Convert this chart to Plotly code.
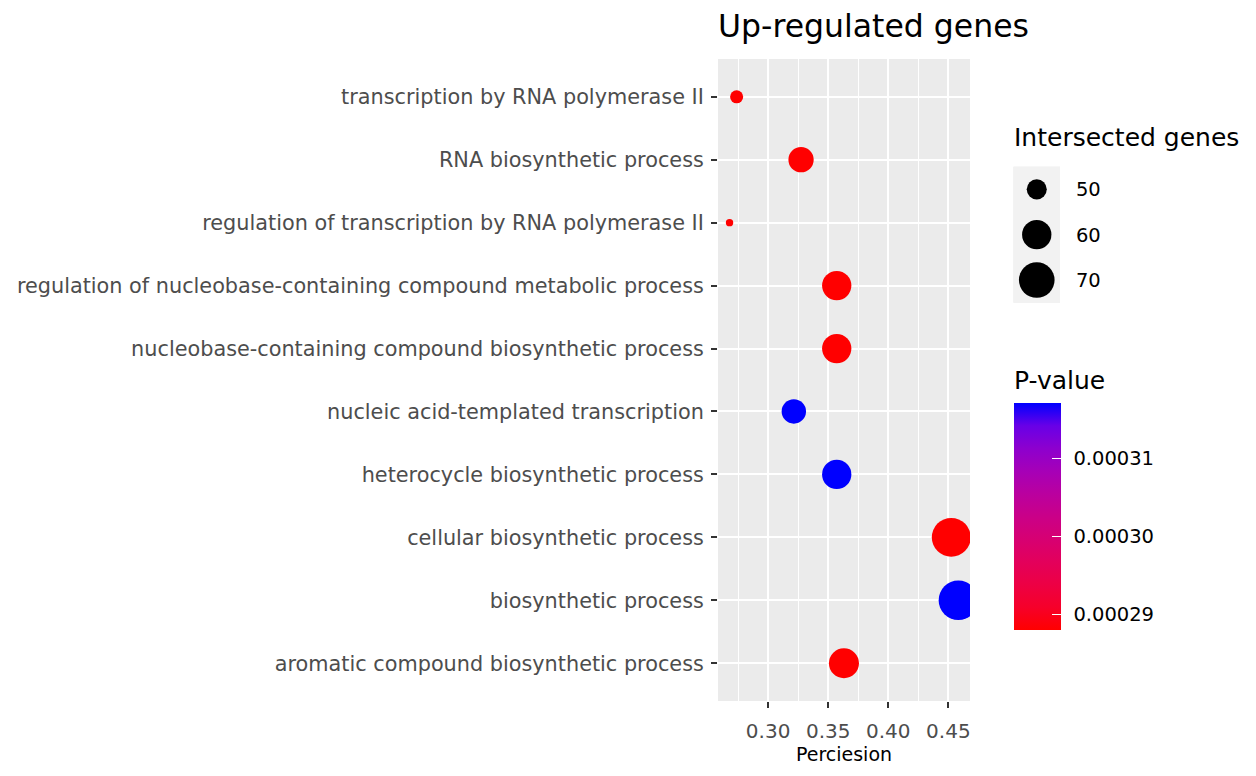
import plotly.graph_objects as go

# GO terms, top to bottom as shown
terms = [
    "transcription by RNA polymerase II",
    "RNA biosynthetic process",
    "regulation of transcription by RNA polymerase II",
    "regulation of nucleobase-containing compound metabolic process",
    "nucleobase-containing compound biosynthetic process",
    "nucleic acid-templated transcription",
    "heterocycle biosynthetic process",
    "cellular biosynthetic process",
    "biosynthetic process",
    "aromatic compound biosynthetic process",
]
precision = [0.2738, 0.3274, 0.2679, 0.3571, 0.3571, 0.3214, 0.3571, 0.4524, 0.4583, 0.3631]
intersected = [46, 55, 45, 60, 60, 54, 60, 76, 77, 61]
pvalue = [0.000288, 0.000288, 0.000288, 0.000288, 0.000288,
          0.0003171, 0.0003171, 0.000288, 0.0003171, 0.000288]

size_breaks = [50, 60, 70]
p_ticks = [0.00029, 0.00030, 0.00031]
x_ticks = [0.30, 0.35, 0.40, 0.45]

FONT = "DejaVu Sans"


def lab_to_hex(L, a, b):
    fy = (L + 16) / 116
    fx = fy + a / 500
    fz = fy - b / 200

    def finv(t):
        return t ** 3 if t ** 3 > 0.008856 else (t - 16 / 116) / 7.787
    X, Y, Z = 0.95047 * finv(fx), finv(fy), 1.08883 * finv(fz)
    rgb = [3.2406 * X - 1.5372 * Y - 0.4986 * Z,
           -0.9689 * X + 1.8758 * Y + 0.0415 * Z,
           0.0557 * X - 0.2040 * Y + 1.0570 * Z]
    out = []
    for v in rgb:
        v = 12.92 * v if v <= 0.0031308 else 1.055 * v ** (1 / 2.4) - 0.055
        out.append(int(round(min(max(v, 0), 1) * 255)))
    return "#%02x%02x%02x" % tuple(out)


# red -> blue in Lab space, like ggplot's gradient
red_lab = (53.24, 80.09, 67.20)
blue_lab = (32.30, 79.19, -107.86)
colorscale = []
for i in range(11):
    t = i / 10
    lab = [r + (bl - r) * t for r, bl in zip(red_lab, blue_lab)]
    colorscale.append([t, lab_to_hex(*lab)])

vmin, vmax = min(intersected), max(intersected)


def diam(v):
    # area-style size scale, radius range 1..6
    t = (v - vmin) / (vmax - vmin)
    return 1 + 6.4 * (1 + 5 * max(t, 0) ** 0.5)


# page body has an 8px margin, so figure coords are screen coords minus 8
W, H = 1240, 760
PL, PT, PB = 710, 51, 693      # main panel edges in figure px
AREA_W = W - 2 - PL
AREA_H = PB - PT


def px(x):
    return (x - 8 - PL) / AREA_W


def py(y):
    return (PB - (y - 8)) / AREA_H


cbar = dict(
    thickness=47, thicknessmode="pixels",
    len=227, lenmode="pixels",
    x=px(1013.5), xanchor="left", xpad=0,
    y=py(516.5), yanchor="middle", ypad=0,
    outlinewidth=0,
    tickvals=p_ticks,
)

fig = go.Figure()
fig.add_trace(go.Scatter(
    x=precision, y=terms, mode="markers",
    marker=dict(
        size=[diam(v) for v in intersected],
        color=pvalue, colorscale=colorscale,
        cmin=min(pvalue), cmax=max(pvalue),
        line=dict(width=0), opacity=1,
        colorbar=dict(cbar, ticktext=["%.5f" % v for v in p_ticks],
                      ticks="outside", ticklen=9, tickcolor="rgba(0,0,0,0)",
                      tickfont=dict(family=FONT, size=19.5, color="black")),
    ),
    showlegend=False, hoverinfo="x+y",
))
# second, label-free colorbar only to carry the white inner ticks
fig.add_trace(go.Scatter(
    x=precision, y=terms, mode="markers",
    marker=dict(
        size=0.1, opacity=0,
        color=pvalue, colorscale=colorscale,
        cmin=min(pvalue), cmax=max(pvalue),
        colorbar=dict(cbar, ticks="inside", ticklen=9, tickcolor="white", tickwidth=1,
                      showticklabels=False),
    ),
    showlegend=False, hoverinfo="skip",
))

# size legend drawn as its own little subplot
fig.add_trace(go.Scatter(
    x=[0.5] * len(size_breaks), y=[str(v) for v in size_breaks],
    mode="markers", xaxis="x2", yaxis="y2",
    marker=dict(size=[diam(v) for v in size_breaks], color="#000000",
                line=dict(width=0), opacity=1),
    showlegend=False, hoverinfo="skip",
))

fig.update_layout(
    width=W, height=H,
    margin=dict(l=PL, r=2, t=PT, b=H - PB),
    paper_bgcolor="white", plot_bgcolor="#EBEBEB",
    font=dict(family=FONT, color="#4D4D4D"),
    title=dict(text="Up-regulated genes", x=PL / W, xanchor="left", xref="container",
               y=1 - 18 / H, yanchor="middle",
               font=dict(family=FONT, size=31.5, color="black")),
    xaxis=dict(
        domain=[0, px(970)], range=[0.2583, 0.4680],
        tickvals=x_ticks, ticktext=["%.2f" % v for v in x_ticks],
        ticks="outside", ticklen=6, tickwidth=2, tickcolor="#333333",
        ticklabelstandoff=6,
        tickfont=dict(size=20, color="#4D4D4D"),
        showgrid=True, gridcolor="white", gridwidth=2,
        minor=dict(tick0=0.275, dtick=0.05, showgrid=True, gridcolor="white", gridwidth=1),
        zeroline=False, showline=False,
        title=dict(text="Perciesion", font=dict(size=19, color="black"), standoff=4),
    ),
    yaxis=dict(
        categoryorder="array", categoryarray=terms[::-1], range=[-0.6, 9.6],
        ticks="outside", ticklen=6, tickwidth=2, tickcolor="#333333",
        ticklabelstandoff=3,
        tickfont=dict(size=20.8, color="#4D4D4D"),
        showgrid=True, gridcolor="white", gridwidth=2,
        zeroline=False, showline=False,
    ),
    xaxis2=dict(domain=[px(1013.5), px(1060)], range=[0, 1], anchor="y2",
                visible=False, fixedrange=True),
    yaxis2=dict(domain=[py(302.7), py(166.7)], anchor="x2", side="right",
                categoryorder="array", categoryarray=[str(v) for v in size_breaks[::-1]],
                range=[-0.5, 2.5], showgrid=False, zeroline=False, showline=False,
                ticks="outside", ticklen=11, tickcolor="rgba(0,0,0,0)",
                tickfont=dict(size=19.5, color="black"), fixedrange=True),
    shapes=[dict(type="rect", xref="x2 domain", yref="y2 domain", x0=0, x1=1, y0=0, y1=1,
                 fillcolor="#F2F2F2", line=dict(width=0), layer="below")],
    annotations=[
        dict(text="Intersected genes", xref="paper", yref="paper", x=px(1012), y=py(138),
             xanchor="left", yanchor="middle", showarrow=False,
             font=dict(size=25, color="black")),
        dict(text="P-value", xref="paper", yref="paper", x=px(1012), y=py(380),
             xanchor="left", yanchor="middle", showarrow=False,
             font=dict(size=25, color="black")),
    ],
)

fig.write_html("out.html")
